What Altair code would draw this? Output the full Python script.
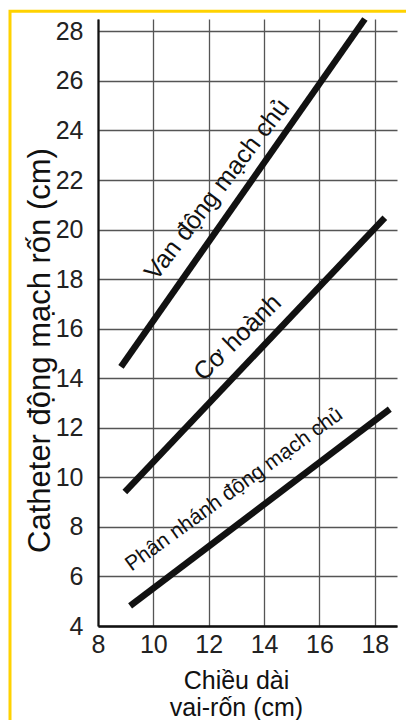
import altair as alt
import pandas as pd

# ---- data ----
x_ticks = [8, 10, 12, 14, 16, 18]
y_ticks = [4, 6, 8, 10, 12, 14, 16, 18, 20, 22, 24, 26, 28]

series_names = ["Van động mạch chủ", "Cơ hoành", "Phân nhánh động mạch chủ"]
x_start = [8.83, 8.97, 9.16]
y_start = [14.46, 9.41, 4.81]
x_end = [17.64, 18.36, 18.54]
y_end = [28.5, 20.48, 12.75]

label_x = [12.3, 13.04, 12.92]
label_y = [21.62, 15.65, 9.5]

lines_df = pd.DataFrame({
    "series": series_names,
    "x": x_start, "y": y_start,
    "x2": x_end, "y2": y_end,
})
labels_df = pd.DataFrame({"series": series_names, "x": label_x, "y": label_y})

FONT = "Liberation Sans"
W, H = 299, 607

x_scale = alt.Scale(domain=[8, 18.8], nice=False, zero=False)
y_scale = alt.Scale(domain=[4, 28.5], nice=False, zero=False)

x_axis = alt.Axis(
    values=x_ticks, grid=True, gridColor="#555555", gridWidth=1.3,
    domainColor="#111111", domainWidth=2.5, ticks=False,
    labelFont=FONT, labelFontSize=25, labelColor="#222222", labelPadding=6,
    labelFlush=False, labelOverlap=False,
    title=["Chiều dài", "vai-rốn (cm)"], titleFont=FONT, titleFontSize=25,
    titleFontWeight="normal", titleColor="#111111",
    titleX=138, titleY=62, titleAlign="center", titleBaseline="alphabetic",
    titleLineHeight=27,
)
y_axis = alt.Axis(
    values=y_ticks, grid=True, gridColor="#555555", gridWidth=1.3,
    domainColor="#111111", domainWidth=2.2, ticks=False,
    labelFont=FONT, labelFontSize=25, labelColor="#222222", labelPadding=15,
    labelOverlap=False,
    title="Catheter động mạch rốn (cm)", titleFont=FONT, titleFontSize=31,
    titleFontWeight="normal", titleColor="#111111",
    titleX=-58, titleY=331, titleAngle=270, titleAlign="center",
    titleBaseline="middle",
)

lines = alt.Chart(lines_df).mark_rule(
    color="#111111", strokeWidth=6.5, strokeCap="butt"
).encode(
    x=alt.X("x:Q", scale=x_scale, axis=x_axis),
    y=alt.Y("y:Q", scale=y_scale, axis=y_axis),
    x2="x2:Q", y2="y2:Q",
)

angles = [307.5, 315.5, 324]
sizes = [25, 25, 21]
texts = []
for i in range(3):
    texts.append(
        alt.Chart(labels_df.iloc[[i]]).mark_text(
            angle=angles[i], font=FONT, fontSize=sizes[i], color="#111111",
            align="center", baseline="middle",
        ).encode(
            x=alt.X("x:Q", scale=x_scale),
            y=alt.Y("y:Q", scale=y_scale),
            text="series:N",
        )
    )

frame = alt.Chart(pd.DataFrame({"k": [0]})).mark_rect(
    fill="transparent", stroke="#FFD200", strokeWidth=3
).encode(
    x=alt.value(-88), x2=alt.value(W + 40),
    y=alt.value(-7.7), y2=alt.value(H + 140),
)

chart = alt.layer(lines, *texts, frame).properties(
    width=W, height=H,
    autosize=alt.AutoSizeParams(type="none"),
    padding={"left": 90, "top": 11, "right": 9, "bottom": 94},
    background="white",
).configure_view(stroke="transparent")

chart.save("out.html", embed_options={"renderer": "svg", "actions": False})
